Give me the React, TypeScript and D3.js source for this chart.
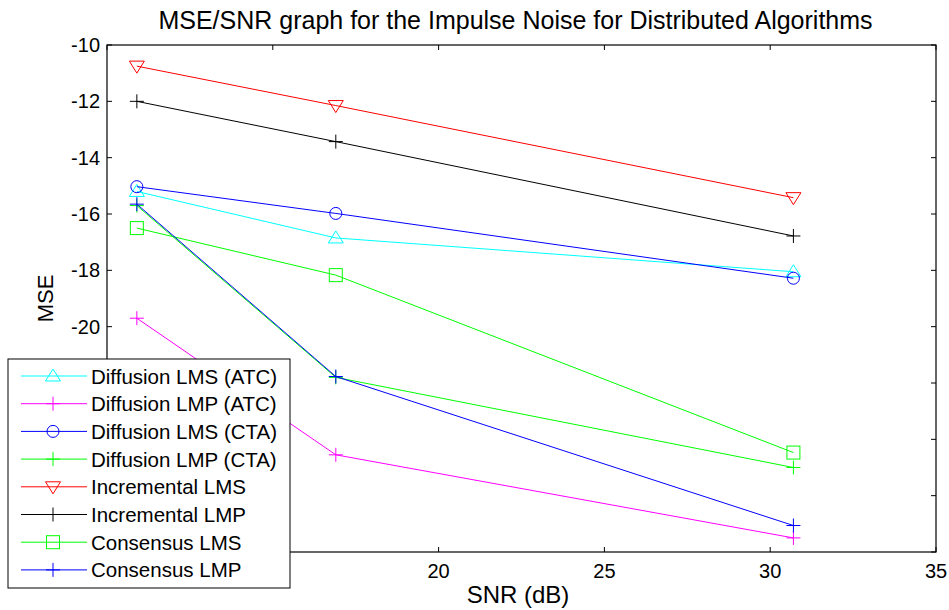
import React from 'react';
import * as d3 from 'd3';

// SNR values (dB) where each algorithm was evaluated
const snr = [10.9, 16.9, 30.7];

// MSE per algorithm
const diffusionLmsAtc = [-15.2, -16.85, -18.05];
const diffusionLmpAtc = [-19.7, -24.55, -27.5];
const diffusionLmsCta = [-15.03, -15.98, -18.28];
const diffusionLmpCta = [-15.7, -21.8, -25.0];
const incrementalLms = [-10.75, -12.15, -15.42];
const incrementalLmp = [-12.0, -13.43, -16.78];
const consensusLms = [-16.5, -18.17, -24.47];
const consensusLmp = [-15.65, -21.77, -27.06];

const xTicks = [10, 15, 20, 25, 30, 35];
const yTicks = [-10, -12, -14, -16, -18, -20, -22, -24, -26, -28];

const series = [
  { name: 'Diffusion LMS (ATC)', values: diffusionLmsAtc, color: '#00ffff', marker: 'triUp' },
  { name: 'Diffusion LMP (ATC)', values: diffusionLmpAtc, color: '#ff00ff', marker: 'plus' },
  { name: 'Diffusion LMS (CTA)', values: diffusionLmsCta, color: '#0000ff', marker: 'circle' },
  { name: 'Diffusion LMP (CTA)', values: diffusionLmpCta, color: '#00ff00', marker: 'plus' },
  { name: 'Incremental LMS', values: incrementalLms, color: '#ff0000', marker: 'triDown' },
  { name: 'Incremental LMP', values: incrementalLmp, color: '#000000', marker: 'plus' },
  { name: 'Consensus LMS', values: consensusLms, color: '#00ff00', marker: 'square' },
  { name: 'Consensus LMP', values: consensusLmp, color: '#0000ff', marker: 'plus' },
];

const W = 949;
const H = 610;
const margin = { top: 45, right: 13, bottom: 58, left: 107 };
const font = '"Liberation Sans", Arial, sans-serif';

const Marker = ({ type, x, y, color }) => {
  const common = { fill: 'none', stroke: color, strokeWidth: 1 };
  if (type === 'triUp') {
    return <path d={`M${x},${y - 7}L${x + 7.5},${y + 5}L${x - 7.5},${y + 5}Z`} {...common} />;
  }
  if (type === 'triDown') {
    return <path d={`M${x - 7.5},${y - 5}L${x + 7.5},${y - 5}L${x},${y + 7}Z`} {...common} />;
  }
  if (type === 'circle') {
    return <circle cx={x} cy={y} r={6} {...common} />;
  }
  if (type === 'square') {
    return <rect x={x - 6.5} y={y - 6.5} width={13} height={13} {...common} />;
  }
  return <path d={`M${x - 7},${y}H${x + 7}M${x},${y - 7}V${y + 7}`} {...common} />;
};

export default function App() {
  const x = d3.scaleLinear().domain([10, 35]).range([margin.left, W - margin.right]);
  const y = d3.scaleLinear().domain([-28, -10]).range([H - margin.bottom, margin.top]);

  const line = d3.line<number>()
    .x((_, i) => x(snr[i]))
    .y(d => y(d));

  const x0 = x.range()[0];
  const x1 = x.range()[1];
  const y0 = y.range()[0];
  const y1 = y.range()[1];
  const tickLen = 5;

  // Legend layout
  const lg = { left: 8, top: 359, width: 282, height: 229, rowH: 27.7 };
  // tick labels hidden behind the legend box are not drawn
  const underLegend = (px, py) =>
    px > lg.left && px < lg.left + lg.width && py > lg.top && py < lg.top + lg.height;

  return (
    <svg width={W} height={H} style={{ position: 'absolute', left: 0, top: 0, background: '#fff' }}
      fontFamily={font}>
      <rect x={0} y={0} width={W} height={H} fill="#fff" />

      {/* Title */}
      <text x={(x0 + x1) / 2 - 6} y={29} textAnchor="middle" fontSize={25}>
        MSE/SNR graph for the Impulse Noise for Distributed Algorithms
      </text>

      {/* Ticks (inward, on all four sides) */}
      {xTicks.map(t => (
        <g key={'xt' + t}>
          <line x1={x(t)} x2={x(t)} y1={y0} y2={y0 - tickLen} stroke="#000" />
          <line x1={x(t)} x2={x(t)} y1={y1} y2={y1 + tickLen} stroke="#000" />
          {!underLegend(x(t), y0 + 20) && (
            <text x={x(t)} y={y0 + 26} textAnchor="middle" fontSize={20}>{t}</text>
          )}
        </g>
      ))}
      {yTicks.map(t => (
        <g key={'yt' + t}>
          <line x1={x0} x2={x0 + tickLen} y1={y(t)} y2={y(t)} stroke="#000" />
          <line x1={x1} x2={x1 - tickLen} y1={y(t)} y2={y(t)} stroke="#000" />
          {!underLegend(x0 - 20, y(t)) && (
            <text x={x0 - 7} y={y(t) + 7} textAnchor="end" fontSize={20}>{t}</text>
          )}
        </g>
      ))}

      {/* Series */}
      {series.map(s => (
        <g key={s.name}>
          <path d={line(s.values) || ''} fill="none" stroke={s.color} strokeWidth={1} />
          {s.values.map((v, i) => (
            <Marker key={i} type={s.marker} x={x(snr[i])} y={y(v)} color={s.color} />
          ))}
        </g>
      ))}

      {/* Axes box */}
      <rect x={x0} y={y1} width={x1 - x0} height={y0 - y1} fill="none" stroke="#000" strokeWidth={1.2} />

      {/* Axis labels */}
      <text x={518} y={603} textAnchor="middle" fontSize={24}>SNR (dB)</text>
      <text transform={`translate(53,${(y0 + y1) / 2}) rotate(-90)`} textAnchor="middle" fontSize={22}>MSE</text>

      {/* Legend */}
      <rect x={lg.left} y={lg.top} width={lg.width} height={lg.height} fill="#fff" stroke="#000" strokeWidth={1} />
      {series.map((s, i) => {
        const ry = lg.top + 17 + i * lg.rowH;
        return (
          <g key={'lg' + s.name}>
            <line x1={lg.left + 13} x2={lg.left + 79} y1={ry} y2={ry} stroke={s.color} strokeWidth={1} />
            <Marker type={s.marker} x={lg.left + 45} y={ry} color={s.color} />
            <text x={lg.left + 83} y={ry + 7.5} fontSize={20.5}>{s.name}</text>
          </g>
        );
      })}
    </svg>
  );
}
